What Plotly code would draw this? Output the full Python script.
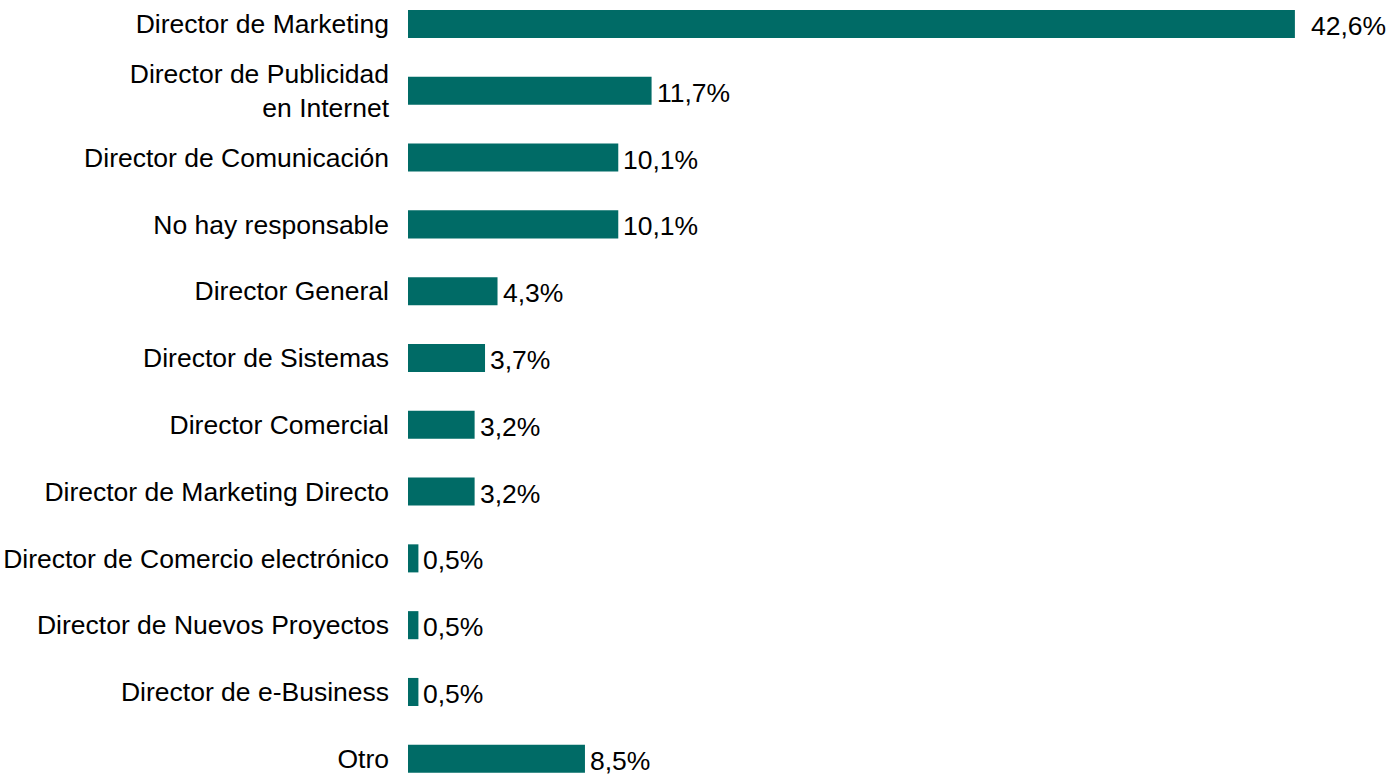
import plotly.graph_objects as go

# Responsable de la publicidad online (% de empresas)
categorias = [
    "Director de Marketing",
    "Director de Publicidad<br>en Internet",
    "Director de Comunicación",
    "No hay responsable",
    "Director General",
    "Director de Sistemas",
    "Director Comercial",
    "Director de Marketing Directo",
    "Director de Comercio electrónico",
    "Director de Nuevos Proyectos",
    "Director de e-Business",
    "Otro",
]
porcentajes = [42.6, 11.7, 10.1, 10.1, 4.3, 3.7, 3.2, 3.2, 0.5, 0.5, 0.5, 8.5]

etiquetas = [f"{v:.1f}".replace(".", ",") + "%" for v in porcentajes]

COLOR_BARRA = "#006B66"
FUENTE = "Liberation Sans, Arial, sans-serif"
TAM = 26.5

fig = go.Figure(
    go.Bar(
        x=porcentajes,
        y=categorias,
        orientation="h",
        marker=dict(color=COLOR_BARRA, line=dict(width=0)),
        width=0.42,
        hoverinfo="x+y",
    )
)

# Etiquetas de valor a la derecha de cada barra
maximo = max(porcentajes)
for cat, v, txt in zip(categorias, porcentajes, etiquetas):
    fig.add_annotation(
        x=v,
        y=cat,
        text=txt,
        showarrow=False,
        xanchor="left",
        yanchor="middle",
        xshift=14 if v == maximo else 3,
        yshift=-2,
        font=dict(family=FUENTE, size=TAM, color="#000000"),
    )

fig.update_layout(
    width=1389,
    height=776,
    margin=dict(l=408, r=0, t=0, b=0),
    plot_bgcolor="white",
    paper_bgcolor="white",
    showlegend=False,
    font=dict(family=FUENTE, size=TAM, color="#000000"),
    xaxis=dict(
        range=[0, 47.12],
        showgrid=False,
        zeroline=False,
        showticklabels=False,
        showline=False,
    ),
    yaxis=dict(
        range=[11.258, -0.359],
        showgrid=False,
        zeroline=False,
        showline=False,
        ticks="",
        ticklabelstandoff=18,
        tickfont=dict(family=FUENTE, size=TAM, color="#000000"),
    ),
)

fig.write_html("out.html")
